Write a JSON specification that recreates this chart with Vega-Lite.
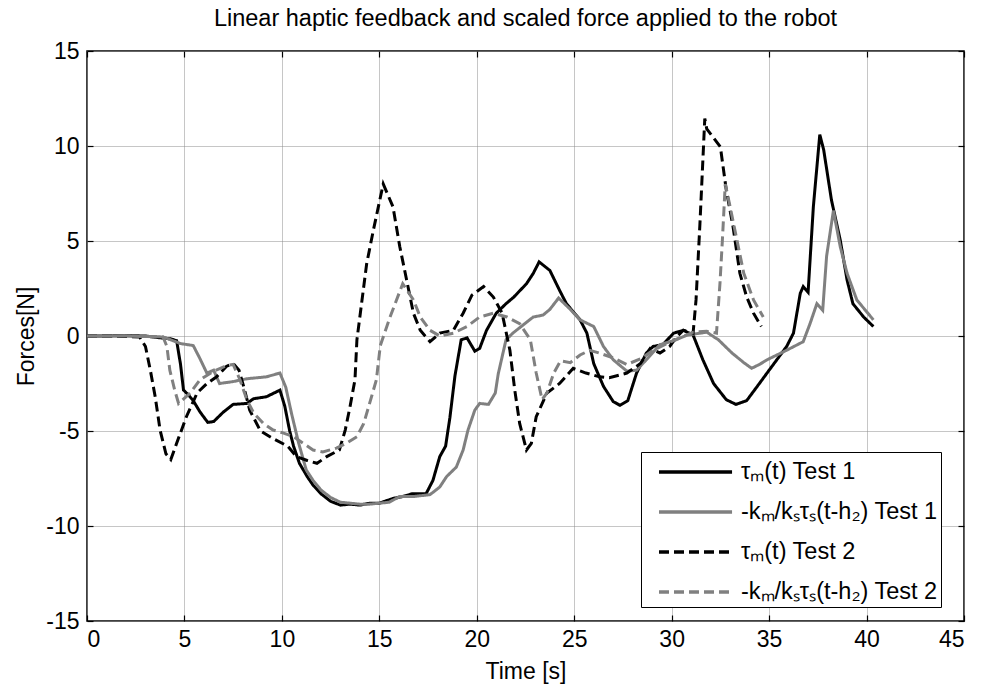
{
  "$schema": "https://vega.github.io/schema/vega-lite/v6.json",
  "width": 877,
  "height": 570,
  "autosize": "none",
  "padding": {"left": 87, "top": 51, "right": 17, "bottom": 72},
  "background": "white",
  "title": {"text": "Linear haptic feedback and scaled force applied to the robot", "font": "Liberation Sans", "fontSize": 23.5, "fontWeight": "normal", "color": "black", "anchor": "middle", "offset": 10},
  "config": {
    "view": {"stroke": "black", "strokeWidth": 1.5},
    "axis": {
      "labelFont": "Liberation Sans", "labelFontSize": 23, "labelColor": "black",
      "titleFont": "Liberation Sans", "titleFontSize": 23, "titleFontWeight": "normal", "titleColor": "black",
      "domain": false, "tickColor": "black", "tickSize": -6, "tickWidth": 1.2,
      "gridColor": "#8c8c8c", "gridDash": [1, 1], "gridOpacity": 1, "gridWidth": 1
    },
    "legend": {
      "orient": "none", "legendX": 554, "legendY": 401,
      "strokeColor": "black", "fillColor": "white", "padding": 3,
      "labelFont": "Liberation Sans", "labelFontSize": 23.5, "labelColor": "black", "labelLimit": 400,
      "symbolType": "M-1,0H3.87", "symbolSize": 900, "symbolStrokeWidth": 3.5, "symbolFillColor": "transparent",
      "symbolOffset": 13, "labelOffset": 50, "rowPadding": 11
    }
  },
  "data": {"values": [
    {"s":"a","t":0,"F":0},{"s":"a","t":1,"F":0},{"s":"a","t":2,"F":0.02},{"s":"a","t":3,"F":0},{"s":"a","t":3.8,"F":-0.1},{"s":"a","t":4.3,"F":-0.15},{"s":"a","t":4.6,"F":-0.25},{"s":"a","t":4.8,"F":-1.5},{"s":"a","t":4.95,"F":-2.84},{"s":"a","t":5.2,"F":-3.1},{"s":"a","t":5.45,"F":-3.4},{"s":"a","t":5.8,"F":-4.0},{"s":"a","t":6.2,"F":-4.55},{"s":"a","t":6.5,"F":-4.5},{"s":"a","t":7.0,"F":-4.0},{"s":"a","t":7.5,"F":-3.6},{"s":"a","t":8.2,"F":-3.55},{"s":"a","t":8.55,"F":-3.3},{"s":"a","t":9.2,"F":-3.2},{"s":"a","t":9.9,"F":-2.85},{"s":"a","t":10.15,"F":-3.7},{"s":"a","t":10.4,"F":-5.0},{"s":"a","t":10.6,"F":-5.8},{"s":"a","t":10.9,"F":-6.7},{"s":"a","t":11.3,"F":-7.4},{"s":"a","t":11.6,"F":-7.85},{"s":"a","t":12.0,"F":-8.3},{"s":"a","t":12.5,"F":-8.7},{"s":"a","t":13.0,"F":-8.9},{"s":"a","t":13.5,"F":-8.85},{"s":"a","t":14.0,"F":-8.9},{"s":"a","t":14.5,"F":-8.8},{"s":"a","t":15.0,"F":-8.8},{"s":"a","t":15.7,"F":-8.55},{"s":"a","t":16.2,"F":-8.45},{"s":"a","t":16.7,"F":-8.3},{"s":"a","t":17.4,"F":-8.3},{"s":"a","t":17.75,"F":-7.6},{"s":"a","t":18.1,"F":-6.35},{"s":"a","t":18.4,"F":-5.8},{"s":"a","t":18.62,"F":-4.3},{"s":"a","t":18.88,"F":-2.1},{"s":"a","t":19.2,"F":-0.2},{"s":"a","t":19.5,"F":-0.1},{"s":"a","t":19.9,"F":-0.8},{"s":"a","t":20.15,"F":-0.65},{"s":"a","t":20.5,"F":0.3},{"s":"a","t":21.0,"F":1.2},{"s":"a","t":21.5,"F":1.7},{"s":"a","t":21.9,"F":2.05},{"s":"a","t":22.55,"F":2.75},{"s":"a","t":22.9,"F":3.3},{"s":"a","t":23.2,"F":3.9},{"s":"a","t":23.75,"F":3.45},{"s":"a","t":24.25,"F":2.4},{"s":"a","t":24.6,"F":1.7},{"s":"a","t":25.3,"F":0.85},{"s":"a","t":25.65,"F":0.15},{"s":"a","t":26.0,"F":-1.45},{"s":"a","t":26.5,"F":-2.65},{"s":"a","t":27.0,"F":-3.45},{"s":"a","t":27.35,"F":-3.65},{"s":"a","t":27.75,"F":-3.4},{"s":"a","t":28.2,"F":-1.95},{"s":"a","t":28.7,"F":-0.9},{"s":"a","t":29.05,"F":-0.55},{"s":"a","t":29.55,"F":-0.45},{"s":"a","t":30.1,"F":0.15},{"s":"a","t":30.6,"F":0.3},{"s":"a","t":31.1,"F":0.05},{"s":"a","t":31.6,"F":-1.25},{"s":"a","t":32.15,"F":-2.5},{"s":"a","t":32.8,"F":-3.35},{"s":"a","t":33.3,"F":-3.6},{"s":"a","t":33.85,"F":-3.4},{"s":"a","t":34.5,"F":-2.5},{"s":"a","t":35.0,"F":-1.8},{"s":"a","t":35.9,"F":-0.55},{"s":"a","t":36.25,"F":0.15},{"s":"a","t":36.6,"F":2.25},{"s":"a","t":36.75,"F":2.6},{"s":"a","t":37.0,"F":2.3},{"s":"a","t":37.27,"F":6.8},{"s":"a","t":37.6,"F":10.6},{"s":"a","t":37.8,"F":9.8},{"s":"a","t":38.2,"F":7.15},{"s":"a","t":38.65,"F":5.05},{"s":"a","t":39.0,"F":2.95},{"s":"a","t":39.3,"F":1.7},{"s":"a","t":39.85,"F":1.0},{"s":"a","t":40.35,"F":0.5},
    {"s":"b","t":0,"F":0},{"s":"b","t":2,"F":0},{"s":"b","t":3.9,"F":-0.05},{"s":"b","t":4.3,"F":-0.2},{"s":"b","t":4.8,"F":-0.4},{"s":"b","t":5.45,"F":-0.5},{"s":"b","t":5.8,"F":-1.2},{"s":"b","t":6.15,"F":-1.95},{"s":"b","t":6.5,"F":-1.8},{"s":"b","t":6.8,"F":-2.5},{"s":"b","t":7.5,"F":-2.4},{"s":"b","t":8.2,"F":-2.25},{"s":"b","t":9.2,"F":-2.15},{"s":"b","t":9.9,"F":-1.95},{"s":"b","t":10.2,"F":-2.7},{"s":"b","t":10.5,"F":-4.1},{"s":"b","t":10.85,"F":-5.6},{"s":"b","t":11.25,"F":-7.05},{"s":"b","t":11.6,"F":-7.6},{"s":"b","t":12.0,"F":-8.1},{"s":"b","t":12.5,"F":-8.5},{"s":"b","t":13.0,"F":-8.75},{"s":"b","t":13.5,"F":-8.8},{"s":"b","t":14.0,"F":-8.85},{"s":"b","t":14.5,"F":-8.85},{"s":"b","t":15.0,"F":-8.8},{"s":"b","t":15.5,"F":-8.75},{"s":"b","t":16.05,"F":-8.45},{"s":"b","t":16.75,"F":-8.45},{"s":"b","t":17.6,"F":-8.35},{"s":"b","t":18.1,"F":-7.95},{"s":"b","t":18.45,"F":-7.4},{"s":"b","t":18.95,"F":-6.9},{"s":"b","t":19.3,"F":-6.0},{"s":"b","t":19.55,"F":-4.95},{"s":"b","t":19.9,"F":-3.9},{"s":"b","t":20.15,"F":-3.55},{"s":"b","t":20.6,"F":-3.6},{"s":"b","t":20.95,"F":-3.0},{"s":"b","t":21.1,"F":-2.0},{"s":"b","t":21.5,"F":-0.2},{"s":"b","t":21.85,"F":0.15},{"s":"b","t":22.4,"F":0.6},{"s":"b","t":22.9,"F":1.0},{"s":"b","t":23.4,"F":1.1},{"s":"b","t":23.75,"F":1.4},{"s":"b","t":24.2,"F":2.0},{"s":"b","t":24.8,"F":1.4},{"s":"b","t":25.3,"F":0.85},{"s":"b","t":26.0,"F":0.5},{"s":"b","t":26.5,"F":-0.55},{"s":"b","t":27.0,"F":-1.25},{"s":"b","t":27.7,"F":-1.85},{"s":"b","t":28.2,"F":-1.8},{"s":"b","t":28.7,"F":-1.25},{"s":"b","t":29.4,"F":-0.45},{"s":"b","t":30.1,"F":-0.25},{"s":"b","t":30.8,"F":0.05},{"s":"b","t":31.8,"F":0.2},{"s":"b","t":32.4,"F":-0.2},{"s":"b","t":33.1,"F":-0.9},{"s":"b","t":33.7,"F":-1.4},{"s":"b","t":34.1,"F":-1.7},{"s":"b","t":34.5,"F":-1.5},{"s":"b","t":34.9,"F":-1.25},{"s":"b","t":35.9,"F":-0.75},{"s":"b","t":36.75,"F":-0.3},{"s":"b","t":37.1,"F":0.65},{"s":"b","t":37.45,"F":1.7},{"s":"b","t":37.75,"F":1.35},{"s":"b","t":37.95,"F":4.2},{"s":"b","t":38.3,"F":6.6},{"s":"b","t":38.65,"F":4.7},{"s":"b","t":39.0,"F":3.3},{"s":"b","t":39.5,"F":1.9},{"s":"b","t":40.35,"F":0.85},
    {"s":"c","t":0,"F":0},{"s":"c","t":1,"F":0},{"s":"c","t":2,"F":-0.02},{"s":"c","t":2.7,"F":-0.05},{"s":"c","t":3.0,"F":-0.55},{"s":"c","t":3.25,"F":-1.8},{"s":"c","t":3.5,"F":-3.2},{"s":"c","t":3.75,"F":-4.95},{"s":"c","t":4.05,"F":-6.2},{"s":"c","t":4.3,"F":-6.5},{"s":"c","t":4.6,"F":-5.65},{"s":"c","t":5.1,"F":-4.25},{"s":"c","t":5.65,"F":-3.0},{"s":"c","t":6.15,"F":-2.5},{"s":"c","t":6.65,"F":-2.15},{"s":"c","t":7.15,"F":-1.6},{"s":"c","t":7.5,"F":-1.45},{"s":"c","t":7.8,"F":-1.8},{"s":"c","t":8.05,"F":-2.7},{"s":"c","t":8.35,"F":-3.9},{"s":"c","t":8.9,"F":-5.0},{"s":"c","t":9.55,"F":-5.4},{"s":"c","t":10.3,"F":-5.8},{"s":"c","t":10.75,"F":-6.35},{"s":"c","t":11.3,"F":-6.55},{"s":"c","t":11.8,"F":-6.7},{"s":"c","t":12.3,"F":-6.35},{"s":"c","t":12.95,"F":-6.0},{"s":"c","t":13.25,"F":-4.95},{"s":"c","t":13.5,"F":-3.7},{"s":"c","t":13.75,"F":-2.3},{"s":"c","t":13.85,"F":-0.2},{"s":"c","t":14.35,"F":3.8},{"s":"c","t":14.7,"F":5.6},{"s":"c","t":15.2,"F":8.0},{"s":"c","t":15.7,"F":6.8},{"s":"c","t":16.05,"F":4.7},{"s":"c","t":16.4,"F":2.95},{"s":"c","t":16.75,"F":1.2},{"s":"c","t":17.1,"F":0.3},{"s":"c","t":17.6,"F":-0.3},{"s":"c","t":18.1,"F":0.15},{"s":"c","t":18.8,"F":0.3},{"s":"c","t":19.3,"F":1.2},{"s":"c","t":19.75,"F":2.15},{"s":"c","t":20.35,"F":2.6},{"s":"c","t":20.85,"F":2.05},{"s":"c","t":21.3,"F":1.2},{"s":"c","t":21.7,"F":-0.75},{"s":"c","t":21.95,"F":-2.85},{"s":"c","t":22.2,"F":-4.6},{"s":"c","t":22.55,"F":-6.0},{"s":"c","t":22.8,"F":-5.65},{"s":"c","t":23.05,"F":-4.25},{"s":"c","t":23.6,"F":-3.0},{"s":"c","t":24.25,"F":-2.5},{"s":"c","t":24.95,"F":-1.7},{"s":"c","t":25.6,"F":-1.95},{"s":"c","t":26.3,"F":-2.15},{"s":"c","t":26.8,"F":-2.2},{"s":"c","t":27.7,"F":-1.95},{"s":"c","t":28.4,"F":-1.45},{"s":"c","t":28.9,"F":-0.65},{"s":"c","t":29.4,"F":-0.9},{"s":"c","t":29.9,"F":-0.55},{"s":"c","t":30.25,"F":-0.05},{"s":"c","t":30.6,"F":0.3},{"s":"c","t":31.1,"F":0.15},{"s":"c","t":31.25,"F":1.9},{"s":"c","t":31.45,"F":5.9},{"s":"c","t":31.7,"F":11.45},{"s":"c","t":31.8,"F":10.9},{"s":"c","t":32.5,"F":9.95},{"s":"c","t":32.8,"F":7.7},{"s":"c","t":33.15,"F":5.75},{"s":"c","t":33.5,"F":3.3},{"s":"c","t":33.85,"F":2.05},{"s":"c","t":34.2,"F":1.2},{"s":"c","t":34.6,"F":0.5},
    {"s":"d","t":0,"F":0},{"s":"d","t":2,"F":0},{"s":"d","t":3.9,"F":-0.05},{"s":"d","t":4.1,"F":-0.55},{"s":"d","t":4.25,"F":-1.8},{"s":"d","t":4.5,"F":-2.85},{"s":"d","t":4.7,"F":-3.55},{"s":"d","t":5.3,"F":-3.0},{"s":"d","t":5.8,"F":-2.3},{"s":"d","t":6.5,"F":-1.85},{"s":"d","t":7.2,"F":-1.55},{"s":"d","t":7.5,"F":-1.5},{"s":"d","t":7.85,"F":-2.3},{"s":"d","t":8.2,"F":-3.35},{"s":"d","t":8.55,"F":-4.05},{"s":"d","t":9.05,"F":-4.6},{"s":"d","t":9.55,"F":-4.95},{"s":"d","t":10.05,"F":-5.1},{"s":"d","t":10.6,"F":-5.3},{"s":"d","t":11.1,"F":-5.65},{"s":"d","t":11.6,"F":-6.0},{"s":"d","t":12.1,"F":-6.1},{"s":"d","t":12.8,"F":-5.9},{"s":"d","t":13.3,"F":-5.65},{"s":"d","t":13.85,"F":-5.3},{"s":"d","t":14.2,"F":-4.6},{"s":"d","t":14.5,"F":-3.55},{"s":"d","t":14.85,"F":-2.3},{"s":"d","t":15.05,"F":-0.5},{"s":"d","t":15.55,"F":1.0},{"s":"d","t":16.2,"F":2.75},{"s":"d","t":16.75,"F":1.9},{"s":"d","t":17.1,"F":1.0},{"s":"d","t":17.6,"F":0.3},{"s":"d","t":18.1,"F":0.0},{"s":"d","t":18.8,"F":0.15},{"s":"d","t":19.5,"F":0.5},{"s":"d","t":20.15,"F":1.0},{"s":"d","t":20.85,"F":1.2},{"s":"d","t":21.55,"F":1.0},{"s":"d","t":22.2,"F":0.65},{"s":"d","t":22.75,"F":-0.2},{"s":"d","t":23.05,"F":-1.95},{"s":"d","t":23.35,"F":-3.35},{"s":"d","t":23.6,"F":-3.0},{"s":"d","t":23.95,"F":-1.95},{"s":"d","t":24.3,"F":-1.3},{"s":"d","t":24.8,"F":-1.4},{"s":"d","t":25.3,"F":-1.0},{"s":"d","t":25.8,"F":-0.75},{"s":"d","t":26.3,"F":-0.9},{"s":"d","t":27.0,"F":-1.15},{"s":"d","t":27.7,"F":-1.5},{"s":"d","t":28.4,"F":-1.2},{"s":"d","t":29.05,"F":-0.75},{"s":"d","t":29.75,"F":-0.4},{"s":"d","t":30.4,"F":-0.1},{"s":"d","t":31.1,"F":0.2},{"s":"d","t":31.8,"F":0.25},{"s":"d","t":32.3,"F":0.15},{"s":"d","t":32.48,"F":2.8},{"s":"d","t":32.6,"F":5.0},{"s":"d","t":32.75,"F":8.0},{"s":"d","t":33.0,"F":6.8},{"s":"d","t":33.35,"F":5.05},{"s":"d","t":33.7,"F":3.3},{"s":"d","t":34.2,"F":1.9},{"s":"d","t":34.7,"F":1.0}
  ]},
  "layer": [
    {
      "mark": {"type": "line", "strokeWidth": 3},
      "encoding": {
        "x": {"field": "t", "type": "quantitative", "scale": {"domain": [0, 45], "nice": false, "zero": false},
              "axis": {"orient": "bottom", "values": [0,5,10,15,20,25,30,35,40,45], "labelExpr": "'' + datum.value", "title": "Time [s]", "labelPadding": 13, "titlePadding": 9, "grid": true}},
        "y": {"field": "F", "type": "quantitative", "scale": {"domain": [-15, 15], "nice": false},
              "axis": {"orient": "left", "values": [-15,-10,-5,0,5,10,15], "labelExpr": "'' + datum.value", "title": "Forces[N]", "labelPadding": 14, "titlePadding": 7, "grid": true}},
        "color": {"field": "s", "type": "nominal",
                  "scale": {"domain": ["a","b","c","d"], "range": ["#000000","#808080","#000000","#808080"]},
                  "legend": {"title": null, "labelExpr": "datum.value == 'a' ? 'τₘ(t) Test 1' : datum.value == 'b' ? '-kₘ/kₛτₛ(t-h₂) Test 1' : datum.value == 'c' ? 'τₘ(t) Test 2' : '-kₘ/kₛτₛ(t-h₂) Test 2'"}},
        "strokeDash": {"field": "s", "type": "nominal",
                  "scale": {"domain": ["a","b","c","d"], "range": [[1,0],[1,0],[10,5],[10,5]]},
                  "legend": {"title": null, "labelExpr": "datum.value == 'a' ? 'τₘ(t) Test 1' : datum.value == 'b' ? '-kₘ/kₛτₛ(t-h₂) Test 1' : datum.value == 'c' ? 'τₘ(t) Test 2' : '-kₘ/kₛτₛ(t-h₂) Test 2'"}}
      }
    },
    {
      "mark": {"type": "point", "opacity": 0},
      "encoding": {
        "x": {"field": "t", "type": "quantitative", "axis": {"orient": "top", "values": [0,5,10,15,20,25,30,35,40,45], "labels": false, "title": null, "grid": false}},
        "y": {"field": "F", "type": "quantitative", "axis": {"orient": "right", "values": [-15,-10,-5,0,5,10,15], "labels": false, "title": null, "grid": false}}
      }
    }
  ],
  "resolve": {"axis": {"x": "independent", "y": "independent"}}
}
